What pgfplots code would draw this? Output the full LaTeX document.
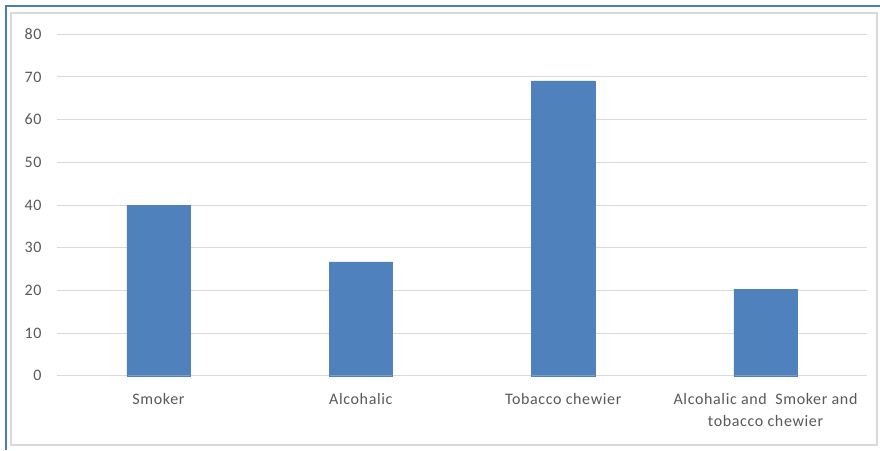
\documentclass[border=0pt]{standalone}
\usepackage{fontspec}
\setmainfont{Carlito}[LetterSpace=4]
\usepackage{pgfplots}
\pgfplotsset{compat=1.18}
\definecolor{barblue}{HTML}{4F81BD}
\definecolor{frameblue}{HTML}{4A7EBB}
\definecolor{gridgray}{HTML}{D9D9D9}
\definecolor{txtgray}{HTML}{595959}
\begin{document}
\begin{tikzpicture}
\useasboundingbox (0pt,0pt) rectangle (880pt,450pt);
\fill[white] (0pt,0pt) rectangle (880pt,450pt);
\draw[gridgray, line width=1.5pt] (11pt,5pt) rectangle (877pt,437pt);
\draw[frameblue, line width=2pt] (6pt,0pt) -- (6pt,444pt) -- (880pt,444pt);
\begin{axis}[
  at={(57.3pt,74.3pt)}, anchor=south west,
  scale only axis, width=809.4pt, height=341.4pt,
  ybar, bar width=63.4pt,
  xmin=-0.5, xmax=3.5, ymin=0, ymax=80,
  ytick={0,10,...,80},
  xtick=data,
  xticklabels={Smoker, Alcohalic, Tobacco chewier, {Alcohalic and~ Smoker and\\tobacco chewier}},
  axis line style={draw=none},
  tick style={draw=none},
  ymajorgrids, grid style={color=gridgray, line width=1pt},
  /pgf/number format/assume math mode=true,
  yticklabel style={anchor=east, inner sep=0pt, xshift=-15.6pt, font=\fontsize{16}{19}\selectfont, text=txtgray},
  xticklabel style={anchor=north, inner sep=0pt, yshift=-13pt, align=center, font=\fontsize{16}{22}\selectfont, text=txtgray},
  clip=false,
]
\addplot[fill=barblue, draw=barblue] coordinates {(0,40.0) (1,26.7) (2,69.1) (3,20.3)};
\end{axis}
\end{tikzpicture}
\end{document}
